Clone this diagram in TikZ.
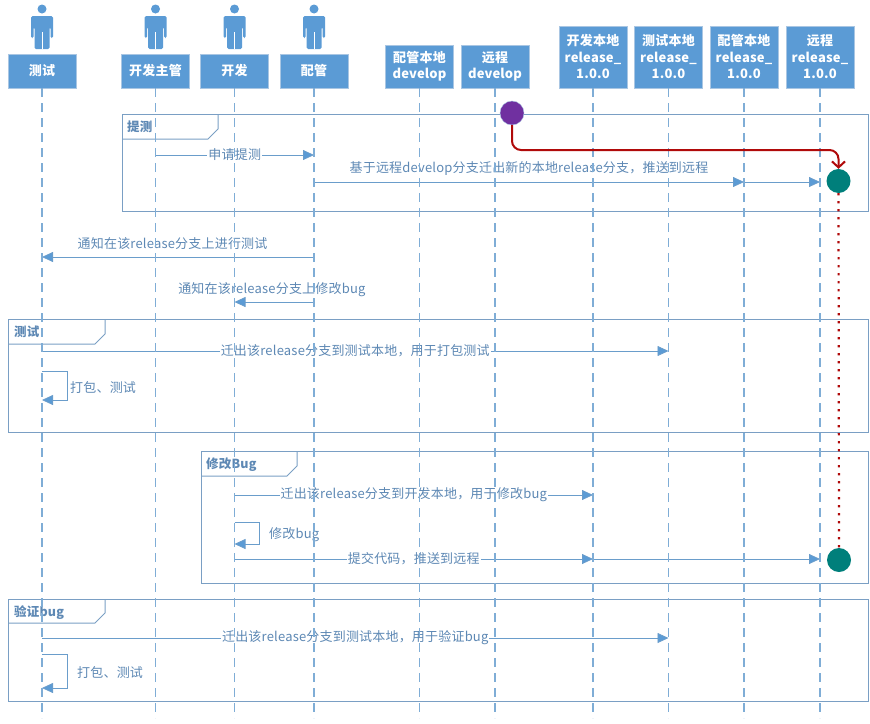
\documentclass[tikz,border=0pt]{standalone}
\usepackage{fontspec}
\setmainfont[LetterSpace=1.5]{Noto Sans CJK SC}
\usepackage{tikz}
\usetikzlibrary{arrows.meta}
\definecolor{boxblue}{HTML}{5B9BD5}
\definecolor{boxedge}{HTML}{A9C6E3}
\definecolor{lineblue}{HTML}{6A9DCB}
\definecolor{lifeblue}{HTML}{7FADD6}
\definecolor{frameblue}{HTML}{7A9FC4}
\definecolor{textblue}{HTML}{5D88B4}
\definecolor{darkred}{HTML}{B00A0A}
\definecolor{startpurple}{HTML}{7030A0}
\definecolor{endteal}{HTML}{007F7B}

\begin{document}
\begin{tikzpicture}[x=1pt, y=-1pt, >=Latex,
  every node/.style={font=\fontsize{13}{16.5}\selectfont},
  hdr/.style={draw=boxedge, fill=boxblue, text=white, align=center, inner sep=0pt, minimum width=68pt, anchor=south, font=\fontsize{13}{16.5}\selectfont\bfseries},
  life/.style={draw=lifeblue, line width=1.1pt, dash pattern=on 9pt off 6pt},
  msg/.style={draw=lineblue, line width=0.8pt, -{Triangle[length=11pt,width=10pt,fill=boxblue]}},
  lbl/.style={text=textblue, inner sep=1pt},
  frm/.style={draw=frameblue, line width=1pt, anchor=north west, inner sep=0pt, outer sep=0pt},
  frmtab/.style={draw=frameblue, line width=1pt},
  frmtxt/.style={text=textblue, anchor=west, inner sep=0pt, font=\fontsize{12.5}{14}\selectfont\bfseries},
  dot/.style={circle, minimum size=24pt, inner sep=0pt},
  actor/.pic={
    \fill[boxblue] (0,9) circle (4.5);
    \fill[boxblue, rounded corners=1.5pt] (-11,16) -- (11,16) -- (11,38) -- (8.5,38) -- (8.5,27) -- (7.5,27) -- (7.5,49) -- (-7.5,49) -- (-7.5,27) -- (-8.5,27) -- (-8.5,38) -- (-11,38) -- cycle;
    \draw[white, line width=0.8pt] (0,32) -- (0,49);
  }]
  \useasboundingbox (0,0) rectangle (870,723);

  % people
  \pic at (42,0) {actor};
  \pic at (155.5,0) {actor};
  \pic at (234.5,0) {actor};
  \pic at (314,0) {actor};

  % heads of the lifelines
  \node[hdr, minimum height=34pt] (tester) at (42,88) {测试};
  \node[hdr, minimum height=34pt] (lead) at (155.5,88) {开发主管};
  \node[hdr, minimum height=34pt] (dev) at (234.5,88) {开发};
  \node[hdr, minimum height=34pt] (cfg) at (314,88) {配管};
  \node[hdr, minimum height=43pt] (cfgdev) at (419.5,88) {配管本地\\develop};
  \node[hdr, minimum height=43pt] (remdev) at (495,88) {远程\\develop};
  \node[hdr, minimum height=62pt] (devrel) at (593,88) {开发本地\\release\_\\1.0.0};
  \node[hdr, minimum height=62pt] (testrel) at (668.5,88) {测试本地\\release\_\\1.0.0};
  \node[hdr, minimum height=62pt] (cfgrel) at (744,88) {配管本地\\release\_\\1.0.0};
  \node[hdr, minimum height=62pt] (remrel) at (820,88) {远程\\release\_\\1.0.0};

  % rows
  \coordinate (bottom) at (0,718);
  \coordinate (rowa) at (0,155);
  \coordinate (rowb) at (0,182);
  \coordinate (rowc) at (0,257);
  \coordinate (rowd) at (0,302);
  \coordinate (rowe) at (0,351);
  \coordinate (rowf) at (0,495);
  \coordinate (rowg) at (0,559);
  \coordinate (rowh) at (0,638);
  \coordinate (bend) at (0,150);

  % frames
  \node[frm, minimum width=746pt, minimum height=97pt] (frtest) at (122,114) {};
  \draw[frmtab] (122,139) -- (208,139) -- (218,129) -- (218,114);
  \node[frmtxt] (frtestname) at (127,127) {提测};
  \node[frm, minimum width=860pt, minimum height=113pt] (frpack) at (8,319) {};
  \draw[frmtab] (8,344) -- (95,344) -- (105,334) -- (105,319);
  \node[frmtxt] (frpackname) at (14,332) {测试};
  \node[frm, minimum width=667pt, minimum height=132pt] (frfix) at (201,451) {};
  \draw[frmtab] (201,476) -- (287,476) -- (297,466) -- (297,451);
  \node[frmtxt] (frfixname) at (206,464.5) {修改Bug};
  \node[frm, minimum width=860pt, minimum height=102pt] (frcheck) at (8,599) {};
  \draw[frmtab] (8,623) -- (95,623) -- (105,613) -- (105,599);
  \node[frmtxt] (frcheckname) at (14,612.5) {验证bug};

  % messages
  \draw[msg] (lead |- rowa) -- node[lbl, fill=white] {申请提测} (cfg |- rowa);
  \draw[msg] (cfg |- rowb) -- node[lbl, above=5pt] {基于远程develop分支迁出新的本地release分支，推送到远程} (cfgrel |- rowb);
  \draw[msg] (cfgrel |- rowb) -- (remrel |- rowb);
  \draw[msg] (cfg |- rowc) -- node[lbl, above=6pt, pos=0.52] {通知在该release分支上进行测试} (tester |- rowc);
  \draw[msg] (cfg |- rowd) -- node[lbl, above=4pt, pos=0.53] {通知在该release分支上修改bug} (dev |- rowd);
  \draw[msg] (tester |- rowe) -- node[lbl, fill=white] {迁出该release分支到测试本地，用于打包测试} (testrel |- rowe);
  \draw[msg] (dev |- rowf) -- node[lbl, fill=white] {迁出该release分支到开发本地，用于修改bug} (devrel |- rowf);
  \draw[msg] (dev |- rowg) -- node[lbl, fill=white] {提交代码，推送到远程} (devrel |- rowg);
  \draw[msg] (devrel |- rowg) -- (remrel |- rowg);
  \draw[msg] (tester |- rowh) -- node[lbl, fill=white] {迁出该release分支到测试本地，用于验证bug} (testrel |- rowh);

  % calls to itself
  \draw[msg] (tester |- 0,371) -- (67,371) -- (67,400) -- (tester |- 0,400);
  \node[lbl, anchor=west] (packa) at (69,388) {打包、测试};
  \draw[msg] (dev |- 0,522) -- (259,522) -- (259,544) -- (dev |- 0,544);
  \node[lbl, anchor=west] (fixa) at (268,534.5) {修改bug};
  \draw[msg] (tester |- 0,654) -- (67,654) -- (67,688) -- (tester |- 0,688);
  \node[lbl, anchor=west] (packb) at (76,673) {打包、测试};

  % lifelines
  \draw[life] (tester.south) -- (tester |- bottom);
  \draw[life] (lead.south) -- (lead |- bottom);
  \draw[life] (dev.south) -- (dev |- bottom);
  \draw[life] (cfg.south) -- (cfg |- bottom);
  \draw[life] (cfgdev.south) -- (cfgdev |- bottom);
  \draw[life] (remdev.south) -- (remdev |- bottom);
  \draw[life] (devrel.south) -- (devrel |- bottom);
  \draw[life] (testrel.south) -- (testrel |- bottom);
  \draw[life] (cfgrel.south) -- (cfgrel |- bottom);
  \draw[life] (remrel.south) -- (remrel |- bottom);

  % branch line
  \node[dot, fill=startpurple, draw=boxedge] (start) at (512,113) {};
  \node[dot, fill=endteal] (rela) at (838.5,181) {};
  \node[dot, fill=endteal] (relb) at (839,560) {};
  \draw[darkred, line width=2pt, rounded corners=9pt, -{Straight Barb[length=6pt,width=13pt]}] (start.south) -- (start |- bend) -- (rela |- bend) -- (rela.north);
  \draw[darkred, line width=2.2pt, dash pattern=on 2.2pt off 5.8pt] (rela.south) -- (relb.north);
\end{tikzpicture}
\end{document}
